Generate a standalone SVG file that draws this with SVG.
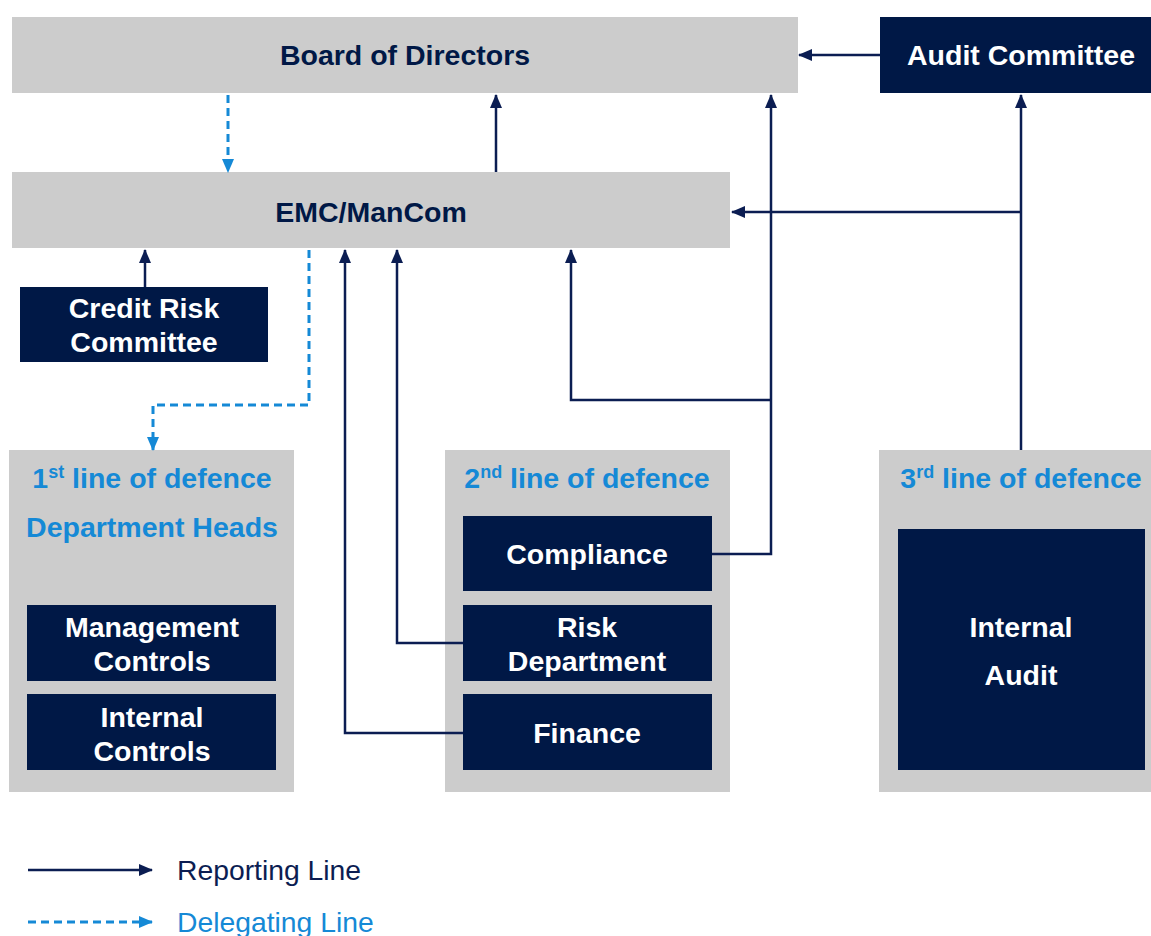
<svg xmlns="http://www.w3.org/2000/svg" width="1151" height="936" viewBox="0 0 1151 936">
<style>
.gray{fill:#cccccc}
.navy{fill:#001846}
.t{font-family:"Liberation Sans",Arial,sans-serif;font-weight:bold;font-size:28.5px;text-anchor:middle}
.w{fill:#ffffff}
.dk{fill:#001846}
.bl{fill:#1589d6}
.rep{fill:none;stroke:#0b1d52;stroke-width:2.5;marker-end:url(#ah)}
.del{fill:none;stroke:#1589d6;stroke-width:3;stroke-dasharray:8 5;marker-end:url(#ahb)}
.lg{font-family:"Liberation Sans",Arial,sans-serif;font-size:28.3px}
</style>
<defs>
<marker id="ah" markerUnits="userSpaceOnUse" markerWidth="14" markerHeight="14" viewBox="0 0 14 14" refX="13" refY="7" orient="auto">
<path d="M0,1 L14,7 L0,13 Z" fill="#0b1d52"/>
</marker>
<marker id="ahb" markerUnits="userSpaceOnUse" markerWidth="14" markerHeight="14" viewBox="0 0 14 14" refX="13" refY="7" orient="auto">
<path d="M0,1 L14,7 L0,13 Z" fill="#1589d6"/>
</marker>
</defs>
<rect width="1151" height="936" fill="#ffffff"/>

<g id="board">
<rect class="gray" x="12" y="17" width="786" height="76"/>
<text class="t dk" x="405" y="65">Board of Directors</text>
</g>
<g id="audit-committee">
<rect class="navy" x="880" y="17" width="271" height="76"/>
<text class="t w" x="1021" y="65">Audit Committee</text>
</g>
<g id="emc">
<rect class="gray" x="12" y="172" width="718" height="76"/>
<text class="t dk" x="371" y="222">EMC/ManCom</text>
</g>
<g id="credit-risk">
<rect class="navy" x="20" y="287" width="248" height="75"/>
<text class="t w" x="144" y="318">Credit Risk</text>
<text class="t w" x="144" y="352">Committee</text>
</g>
<g id="line1">
<rect class="gray" x="9" y="450" width="285" height="342"/>
<text class="t bl" x="152" y="488">1<tspan font-size="18" dy="-10">st</tspan><tspan dy="10"> line of defence</tspan></text>
<text class="t bl" x="152" y="537">Department Heads</text>
</g>
<g id="management-controls">
<rect class="navy" x="27" y="605" width="249" height="76"/>
<text class="t w" x="152" y="637">Management</text>
<text class="t w" x="152" y="671">Controls</text>
</g>
<g id="internal-controls">
<rect class="navy" x="27" y="694" width="249" height="76"/>
<text class="t w" x="152" y="727">Internal</text>
<text class="t w" x="152" y="761">Controls</text>
</g>
<g id="line2">
<rect class="gray" x="445" y="450" width="285" height="342"/>
<text class="t bl" x="587" y="488">2<tspan font-size="18" dy="-10">nd</tspan><tspan dy="10"> line of defence</tspan></text>
</g>
<g id="compliance">
<rect class="navy" x="463" y="516" width="249" height="75"/>
<text class="t w" x="587" y="564">Compliance</text>
</g>
<g id="risk-department">
<rect class="navy" x="463" y="605" width="249" height="76"/>
<text class="t w" x="587" y="637">Risk</text>
<text class="t w" x="587" y="671">Department</text>
</g>
<g id="finance">
<rect class="navy" x="463" y="694" width="249" height="76"/>
<text class="t w" x="587" y="743">Finance</text>
</g>
<g id="line3">
<rect class="gray" x="879" y="450" width="272" height="342"/>
<text class="t bl" x="1021" y="488">3<tspan font-size="18" dy="-10">rd</tspan><tspan dy="10"> line of defence</tspan></text>
</g>
<g id="internal-audit">
<rect class="navy" x="898" y="529" width="247" height="241"/>
<text class="t w" x="1021" y="637">Internal</text>
<text class="t w" x="1021" y="685">Audit</text>
</g>

<g id="connectors">
<path class="rep" d="M880,55 H799"/>
<path class="del" d="M228,95 V172"/>
<path class="rep" d="M496,172 V95"/>
<path class="rep" d="M145,287 V250"/>
<path class="del" d="M309,250 V405 H153 V450"/>
<path class="rep" d="M463,733 H345 V250"/>
<path class="rep" d="M463,643 H397 V250"/>
<path class="rep" d="M712,554 H771 V95"/>
<path class="rep" d="M771,400 H571 V250"/>
<path class="rep" d="M1021,450 V95"/>
<path class="rep" d="M1021,212 H732"/>
</g>

<g id="legend">
<path class="rep" d="M28,870 H152"/>
<text class="lg" x="177" y="880" fill="#0b1d52">Reporting Line</text>
<path class="del" d="M28,922 H152"/>
<text class="lg" x="177" y="932" fill="#1589d6">Delegating Line</text>
</g>
</svg>
